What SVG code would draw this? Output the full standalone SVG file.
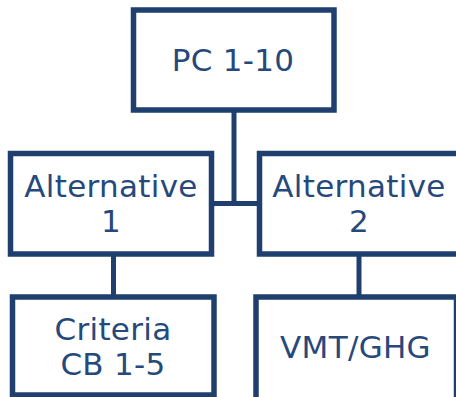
<svg xmlns="http://www.w3.org/2000/svg" width="456" height="397" viewBox="0 0 456 397">
<style>
.box{fill:#ffffff;stroke:#1f3f6e;stroke-width:5.5}
.con{stroke:#1f3f6e;stroke-width:5;fill:none}
.t{font-family:"DejaVu Sans",Verdana,sans-serif;font-size:31px;fill:#26497b;text-anchor:middle;letter-spacing:0.3px}
</style>
<rect width="456" height="397" fill="#ffffff"/>
<g id="connectors">
<line class="con" x1="234" y1="110" x2="234" y2="203.5"/>
<line class="con" x1="211.5" y1="203.5" x2="259.5" y2="203.5"/>
<line class="con" x1="113.5" y1="254" x2="113.5" y2="297"/>
<line class="con" x1="359" y1="254" x2="359" y2="297"/>
</g>
<g id="pc">
<rect class="box" x="133.5" y="10" width="200.5" height="100"/>
<text class="t" x="233" y="71">PC 1-10</text>
</g>
<g id="alt1">
<rect class="box" x="10.5" y="153.5" width="201" height="100.5"/>
<text class="t" x="111" y="197">Alternative</text>
<text class="t" x="111" y="232">1</text>
</g>
<g id="alt2">
<rect class="box" x="259.5" y="153.5" width="200" height="100.5"/>
<text class="t" x="359" y="197">Alternative</text>
<text class="t" x="359" y="232">2</text>
</g>
<g id="criteria">
<rect class="box" x="12.5" y="297" width="201.5" height="98"/>
<text class="t" x="113" y="340">Criteria</text>
<text class="t" x="113" y="374.5">CB 1-5</text>
</g>
<g id="vmt">
<rect class="box" x="256" y="297" width="200.5" height="106"/>
<text class="t" x="355.5" y="358">VMT/GHG</text>
</g>
</svg>
